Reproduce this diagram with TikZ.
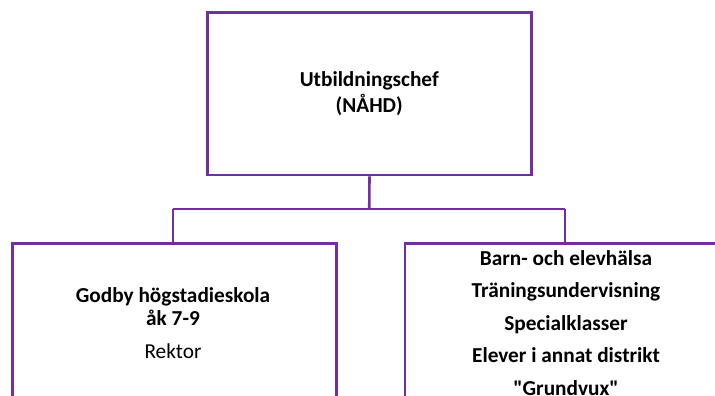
\documentclass[tikz,border=0pt]{standalone}
\usepackage{fontspec}
\setmainfont{Carlito}[Ligatures=TeXOff]
\definecolor{boxpurple}{HTML}{7030A0}
\begin{document}
\begin{tikzpicture}[x=1pt,y=-1pt,
  orgbox/.style={draw=boxpurple,line width=2.6pt,rectangle,inner sep=0pt},
  orgtext/.style={align=center,inner sep=0pt,anchor=base},
  link/.style={draw=boxpurple,line width=2.6pt}]
\useasboundingbox (0,0) rectangle (715,396);
\begin{scope}
\clip (0,0) rectangle (715,396);
\node[orgbox,minimum width=324pt,minimum height=162.3pt] (top) at (369.5,93.85) {};
\node[orgbox,minimum width=323.5pt,minimum height=240pt,anchor=north west] (left) at (11.4,242) {};
\node[orgbox,minimum width=323.5pt,minimum height=240pt,anchor=north west] (right) at (403.6,242) {};
\coordinate (mid) at (369.25,209);
\coordinate (ml) at (173,209);
\coordinate (mr) at (565,209);
\draw[link] (top.south) -- (mid);
\draw[link] (ml) -- (mr);
\draw[link] (ml) -- (ml |- left.north);
\draw[link] (mr) -- (mr |- right.north);
\node[orgtext,font=\fontsize{21.3}{25}\selectfont\bfseries] (toptext) at (369.25,112) {Utbildningschef\\(NÅHD)};
\node[orgtext,font=\fontsize{21.3}{23}\selectfont\bfseries] (lefttext) at (173,358) {Godby högstadieskola\\åk 7-9\\[10pt]{\mdseries Rektor}};
\node[orgtext,font=\fontsize{21.3}{32.5}\selectfont\bfseries] (righttext) at (566,395) {Barn- och elevhälsa\\Träningsundervisning\\Specialklasser\\Elever i annat distrikt\\"Grundvux"};
\end{scope}
\end{tikzpicture}
\end{document}
